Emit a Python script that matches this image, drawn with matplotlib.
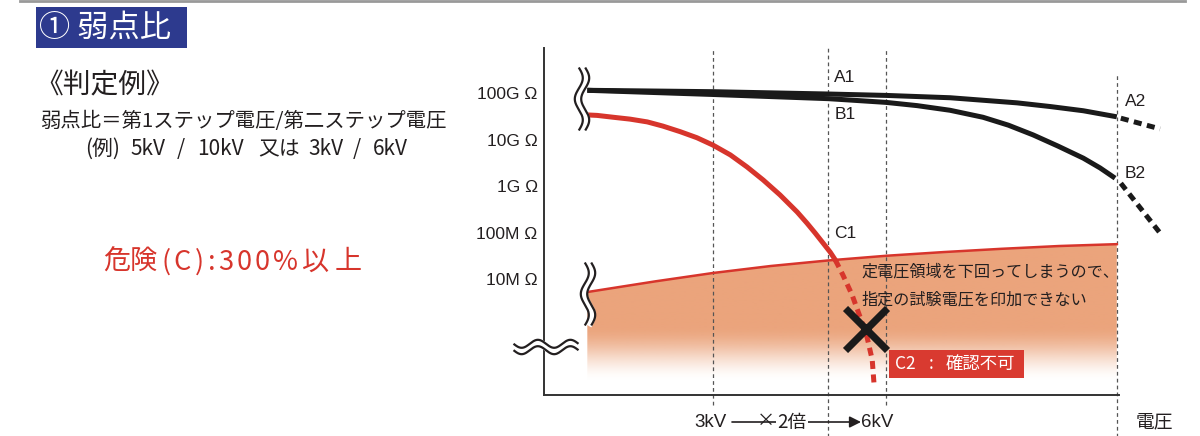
import numpy as np
import matplotlib
matplotlib.use("Agg")
import matplotlib.pyplot as plt
from matplotlib.image import AxesImage
from matplotlib.patches import Rectangle
from matplotlib.lines import Line2D
from matplotlib.ticker import NullLocator

plt.rcParams['font.family'] = ['Noto Sans CJK JP', 'DejaVu Sans']

# --- data: voltage in kV, insulation resistance as log10(ohm)
a_kv = [0.82, 3.0, 5.0, 6.0, 7.11, 8.27, 8.85, 9.42, 10.0]
a_log = [11.06, 11.03, 10.98, 10.95, 10.90, 10.79, 10.71, 10.62, 10.49]
a_ext_kv = [10.07, 10.75]
a_ext_log = [10.46, 10.23]

b_kv = [0.82, 3.0, 5.0, 5.38, 6.0, 6.54, 7.11, 7.68, 8.12, 8.55, 8.98, 9.42, 9.71, 9.97]
b_log = [11.06, 10.97, 10.88, 10.85, 10.80, 10.73, 10.63, 10.48, 10.31, 10.10, 9.86,
         9.60, 9.39, 9.17]
b_ext_kv = [10.07, 10.75]
b_ext_log = [9.06, 7.99]

c_kv = [0.82, 0.99, 1.27, 1.56, 1.86, 2.13, 2.43, 2.72, 3.0, 3.30, 3.59, 3.87,
        4.16, 4.46, 4.63, 4.77, 4.91, 5.03, 5.12]
c_log = [10.53, 10.52, 10.48, 10.44, 10.38, 10.29, 10.17, 10.04, 9.88, 9.67, 9.41,
         9.13, 8.81, 8.44, 8.20, 7.99, 7.77, 7.58, 7.41]
c_ext_kv = [5.12, 5.25, 5.41, 5.55, 5.67, 5.76, 5.79]
c_ext_log = [7.41, 7.09, 6.66, 6.18, 5.75, 5.26, 4.76]

# upper edge of the constant-voltage (shaded) region
bound_kv = [0.82, 2.0, 3.0, 4.0, 5.0, 6.0, 7.0, 8.0, 9.0, 10.0]
bound_log = [6.72, 6.95, 7.13, 7.28, 7.40, 7.50, 7.58, 7.65, 7.71, 7.75]

fail_kv = [5.65]
fail_log = [5.92]

guide_kv = [3.0, 5.0, 6.0, 10.0]
ytick_log = [7, 8, 9, 10, 11]
ytick_labels = ['10M Ω', '100M Ω', '1G Ω', '10G Ω', '100G Ω']

RED = '#D7352C'
FILL = '#EBA47C'
INK = '#231F20'
NAVY = '#2D3A8E'

W, H = 1200, 436


def fx(x):
    return x / W


def fy(y):
    return 1 - y / H


def place(fig, parts, y, size, color, **kw):
    # text pieces put at their own left edge (picture pixels)
    for s, x in parts:
        fig.text(fx(x), fy(y), s, fontsize=size, color=color, va='center', ha='left', **kw)


def wave(fig, cx, cy, length, amp, periods, vertical):
    # double wavy "break" mark, drawn in picture pixels
    t = np.linspace(0, 1, 200)
    along = (t - 0.5) * length
    off = amp * np.sin(2 * np.pi * periods * t)
    for d, lw, col in [(0, 5.5, 'white'), (-3.2, 1.6, INK), (3.2, 1.6, INK)]:
        if vertical:
            xs, ys = cx + off + d, cy + along
        else:
            xs, ys = cx + along, cy + off + d
        fig.add_artist(Line2D(fx(xs), fy(ys), color=col, lw=lw, zorder=20,
                              solid_capstyle='butt'))


fig = plt.figure(figsize=(W / 100, H / 100), dpi=100)
ax = fig.add_axes([fx(544), fy(395), fx(1186) - fx(544), fy(48) - fy(395)])
ax.set_yscale('log')
ax.set_xlim(0.069, 11.2)
ax.set_ylim(10 ** 4.505, 10 ** 11.97)

for s in ['top', 'right']:
    ax.spines[s].set_visible(False)
for s in ['left', 'bottom']:
    ax.spines[s].set_color('#333333')
    ax.spines[s].set_linewidth(1.4)
ax.spines['bottom'].set_bounds(0.069, 10.03)

ax.set_xticks([])
ax.set_yticks([10.0 ** v for v in ytick_log], ytick_labels)
ax.yaxis.set_minor_locator(NullLocator())
ax.tick_params(axis='y', length=0, pad=4.5, labelsize=12.5, labelcolor=INK)
for lab in ax.get_yticklabels():
    lab.set_fontfamily('Liberation Sans')

# shaded region with fade to white
bx = np.array(bound_kv)
by = 10.0 ** np.array(bound_log)
poly = ax.fill_between(bx, 10 ** 4.505, by, facecolor='none', edgecolor='none')
frac = np.linspace(0, 1, 400)
lo, hi = (395 - 382) / 347, (395 - 326) / 347
s = np.clip((frac - lo) / (hi - lo), 0, 1)
alpha = s * s * (3 - 2 * s)
rgba = np.zeros((400, 1, 4))
rgba[..., :3] = matplotlib.colors.to_rgb(FILL)
rgba[:, 0, 3] = alpha
im = AxesImage(ax, extent=(0, 1, 0, 1), origin='lower', interpolation='bilinear')
im.set_data(rgba)
im.set_transform(ax.transAxes)
ax.add_image(im)
im.set_clip_path(poly.get_paths()[0], ax.transData)
im.set_zorder(1)
ax.plot(bx, by, color=RED, lw=1.8, zorder=3)

# vertical guide lines
xt = ax.get_xaxis_transform()
guide_span = {3.0: (-0.029, 1.0), 5.0: (-0.12, 1.0), 6.0: (-0.029, 1.0), 10.0: (-0.12, 0.928)}
for g in guide_kv:
    y0, y1 = guide_span[g]
    ax.add_line(Line2D([g, g], [y0, y1], transform=xt, color='#555555', lw=0.9,
                       linestyle=(0, (3, 2.5)), clip_on=False, zorder=2))

# curves
ax.plot(a_kv, 10.0 ** np.array(a_log), color='#1a1a1a', lw=3.6, zorder=5,
        solid_capstyle='butt', solid_joinstyle='round')
ax.plot(b_kv, 10.0 ** np.array(b_log), color='#1a1a1a', lw=3.6, zorder=5,
        solid_capstyle='butt', solid_joinstyle='round')
ax.plot(a_ext_kv, 10.0 ** np.array(a_ext_log), color='#1a1a1a', lw=3.6,
        linestyle=(0, (1.6, 1.1)), zorder=5, clip_on=False)
ax.plot(b_ext_kv, 10.0 ** np.array(b_ext_log), color='#1a1a1a', lw=3.6,
        linestyle=(0, (1.6, 1.1)), zorder=5, clip_on=False)
ax.plot(c_kv, 10.0 ** np.array(c_log), color=RED, lw=3.6, zorder=5,
        solid_joinstyle='round')
ax.plot(c_ext_kv, 10.0 ** np.array(c_ext_log), color=RED, lw=3.6,
        linestyle=(0, (1.6, 1.1)), zorder=5)
ax.plot(fail_kv, 10.0 ** np.array(fail_log), marker='x', ms=30, mew=5.2,
        color='#1a1a1a', linestyle='none', zorder=6)

# point labels
lab_kw = dict(fontsize=12.5, color=INK, family='Liberation Sans', va='center', zorder=7)
ax.text(5.1, 10 ** 11.33, 'A1', **lab_kw)
ax.text(5.1, 10 ** 10.53, 'B1', **lab_kw)
ax.text(5.1, 10 ** 7.97, 'C1', **lab_kw)
ax.text(10.14, 10 ** 10.81, 'A2', clip_on=False, **lab_kw)
ax.text(10.14, 10 ** 9.28, 'B2', clip_on=False, **lab_kw)

ax.text(5.58, 10 ** 7.15, '定電圧領域を下回ってしまうので、', fontsize=11.6,
        color=INK, va='center', zorder=7)
ax.text(5.58, 10 ** 6.55, '指定の試験電圧を印加できない', fontsize=11.6,
        color=INK, va='center', zorder=7)

# C2 box
fig.add_artist(Rectangle((fx(889), fy(378)), fx(1024) - fx(889), fy(350) - fy(378),
                         facecolor='#D93A30', edgecolor='none', zorder=8))
place(fig, [('C2', 895), (':', 929), ('確認不可', 946)], 364, 12.5, 'white', zorder=9)

# break marks
wave(fig, 582, 99, 63, 4, 1.5, True)
wave(fig, 588, 294, 63, 4, 1.5, True)
wave(fig, 546, 347, 65, 4, 2, False)

# x-axis notes
fig.text(fx(710), fy(422), '3kV', fontsize=13.5, family='Liberation Sans',
         color=INK, ha='center', va='center')
fig.text(fx(877), fy(422), '6kV', fontsize=13.5, family='Liberation Sans',
         color=INK, ha='center', va='center')
fig.text(fx(1154), fy(422), '電圧', fontsize=13.5, color=INK, ha='center', va='center')
ax.annotate('', xy=(861, H - 422), xytext=(732, H - 422), xycoords='figure pixels',
            textcoords='figure pixels',
            arrowprops=dict(arrowstyle='-|>', lw=1.2, color=INK, mutation_scale=17,
                            shrinkA=0, shrinkB=0))
fig.text(fx(766), fy(421), '×', fontsize=13, color=INK, ha='center', va='center')
fig.text(fx(792), fy(422), '2倍', fontsize=13.5, color=INK, ha='center', va='center',
         bbox=dict(boxstyle='square,pad=0.05', fc='white', ec='none'))

# left side
fig.add_artist(Line2D([fx(20), fx(1185)], [fy(1), fy(1)], color='#999999', lw=2))
fig.add_artist(Rectangle((fx(36), fy(48)), fx(187) - fx(36), fy(7) - fy(48),
                         facecolor=NAVY, edgecolor='none'))
fig.text(fx(39), fy(28), '① 弱点比', fontsize=22.5, color='white', va='center', ha='left')
fig.text(fx(35), fy(85), '《判定例》', fontsize=20, color=INK, va='center', ha='left')
fig.text(fx(40), fy(121), '弱点比＝第1ステップ電圧/第二ステップ電圧', fontsize=14.7,
         color=INK, va='center', ha='left')
place(fig, [('(例)', 85), ('5kV', 130), ('/', 177), ('10kV', 197), ('又は', 258),
            ('3kV', 308), ('/', 353), ('6kV', 373)], 149, 15, INK)
place(fig, [('危険', 103), ('(', 162), ('C', 173), (')', 195), (':', 208),
            ('3', 218), ('0', 237), ('0', 255), ('%', 273), ('以', 302), ('上', 335)],
      262, 19.5, RED)

fig.savefig('out.png', dpi=100)
